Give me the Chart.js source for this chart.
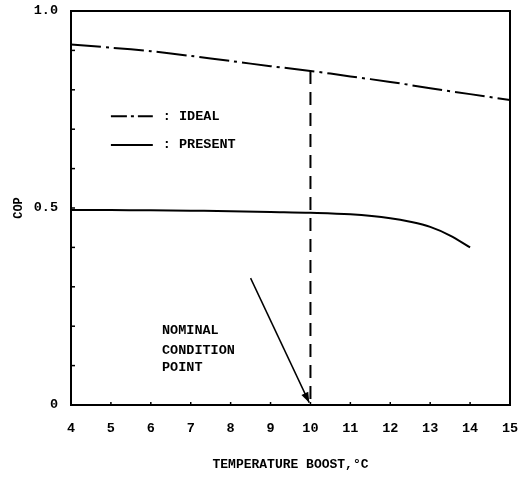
<!DOCTYPE html>
<html lang="en">
<head>
    <meta charset="UTF-8">
    <title>COP vs Temperature Boost</title>
    <script src="https://cdn.jsdelivr.net/npm/chart.js"></script>
    <style>
        html, body { margin: 0; padding: 0; background: #fff; }
        #copChart { display: block; }
    </style>
</head>
<body>
    <canvas id="copChart" width="525" height="479"></canvas>

    <script>
        // data
        const idealBoost = [4, 5, 6, 7, 8, 9, 10, 11, 12, 13, 14, 15];
        const idealCop = [0.915, 0.907, 0.898, 0.886, 0.873, 0.860, 0.848, 0.834, 0.820, 0.804, 0.789, 0.774];

        const presentBoost = [4, 5, 6, 7, 8, 9, 10, 11, 12, 12.5, 13, 13.5, 14];
        const presentCop = [0.495, 0.495, 0.494, 0.493, 0.492, 0.490, 0.488, 0.484, 0.474, 0.465, 0.452, 0.430, 0.400];

        // nominal condition point (dashed drop line)
        const nominalBoost = [10, 10];
        const nominalCop = [0.848, 0];

        const xTicks = [4, 5, 6, 7, 8, 9, 10, 11, 12, 13, 14, 15];
        const yLabels = { '0': '0', '0.5': '0.5', '1': '1.0' };

        const legendItems = ['IDEAL', 'PRESENT'];
        const noteLines = ['NOMINAL', 'CONDITION', 'POINT'];

        const FONT = '"Liberation Mono", "DejaVu Sans Mono", monospace';

        const toPoints = (xs, ys) => xs.map((x, i) => ({ x: x, y: ys[i] }));

        // drop the automatic label overflow padding so the layout padding rules
        const noEdgePad = scale => {
            scale.paddingTop = 0;
            scale.paddingBottom = 0;
            scale.paddingLeft = 0;
            scale.paddingRight = 0;
        };

        // frame, inward ticks, legend and arrow note
        const extras = {
            id: 'extras',
            afterDraw(chart) {
                const ctx = chart.ctx;
                const a = chart.chartArea;
                const xs = chart.scales.x;
                const ys = chart.scales.y;
                ctx.save();
                ctx.strokeStyle = '#000';
                ctx.lineWidth = 2;
                ctx.strokeRect(a.left, a.top, a.right - a.left, a.bottom - a.top);

                ctx.lineWidth = 1.5;
                ys.ticks.forEach(t => {
                    const py = ys.getPixelForValue(t.value);
                    ctx.beginPath();
                    ctx.moveTo(a.left, py);
                    ctx.lineTo(a.left + 4, py);
                    ctx.stroke();
                });
                xs.ticks.forEach(t => {
                    const px = xs.getPixelForValue(t.value);
                    ctx.beginPath();
                    ctx.moveTo(px, a.bottom);
                    ctx.lineTo(px, a.bottom - 3);
                    ctx.stroke();
                });

                // legend inside the plot
                ctx.font = 'bold 13.5px ' + FONT;
                ctx.fillStyle = '#000';
                ctx.textBaseline = 'middle';
                const legendY = [0.733, 0.660];
                legendItems.forEach((name, i) => {
                    const py = ys.getPixelForValue(legendY[i]);
                    ctx.lineWidth = 2;
                    ctx.setLineDash(i === 0 ? [16, 4, 3, 4] : []);
                    ctx.beginPath();
                    ctx.moveTo(xs.getPixelForValue(5.0), py);
                    ctx.lineTo(xs.getPixelForValue(6.05), py);
                    ctx.stroke();
                    ctx.setLineDash([]);
                    ctx.fillText(': ' + name, xs.getPixelForValue(6.3), py);
                });

                // note text
                const noteY = [0.19, 0.137, 0.094];
                noteLines.forEach((line, i) => {
                    ctx.fillText(line, xs.getPixelForValue(6.28), ys.getPixelForValue(noteY[i]));
                });

                // arrow to the nominal point
                const x0 = xs.getPixelForValue(8.5), y0 = ys.getPixelForValue(0.322);
                const x1 = xs.getPixelForValue(9.97), y1 = ys.getPixelForValue(0.006);
                ctx.lineWidth = 1.5;
                ctx.beginPath();
                ctx.moveTo(x0, y0);
                ctx.lineTo(x1, y1);
                ctx.stroke();
                const ang = Math.atan2(y1 - y0, x1 - x0);
                ctx.beginPath();
                ctx.moveTo(x1, y1);
                ctx.lineTo(x1 - 11 * Math.cos(ang - 0.35), y1 - 11 * Math.sin(ang - 0.35));
                ctx.lineTo(x1 - 11 * Math.cos(ang + 0.35), y1 - 11 * Math.sin(ang + 0.35));
                ctx.closePath();
                ctx.fill();
                ctx.restore();
            }
        };

        new Chart(document.getElementById('copChart'), {
            type: 'line',
            data: {
                datasets: [
                    {
                        label: 'IDEAL',
                        data: toPoints(idealBoost, idealCop),
                        borderColor: '#000',
                        borderWidth: 2,
                        borderDash: [30, 5, 3, 5],
                        pointRadius: 0,
                        tension: 0.3
                    },
                    {
                        label: 'PRESENT',
                        data: toPoints(presentBoost, presentCop),
                        borderColor: '#000',
                        borderWidth: 2,
                        pointRadius: 0,
                        cubicInterpolationMode: 'monotone'
                    },
                    {
                        label: 'NOMINAL',
                        data: toPoints(nominalBoost, nominalCop),
                        borderColor: '#000',
                        borderWidth: 2,
                        borderDash: [13, 8],
                        pointRadius: 0
                    }
                ]
            },
            options: {
                responsive: false,
                animation: false,
                layout: { autoPadding: false, padding: { top: 11, right: 15, left: 0, bottom: 0 } },
                plugins: {
                    legend: { display: false },
                    tooltip: { enabled: false }
                },
                scales: {
                    x: {
                        type: 'linear',
                        min: 4,
                        max: 15,
                        afterBuildTicks: scale => { scale.ticks = xTicks.map(v => ({ value: v })); },
                        afterFit: scale => { scale.height = 74; noEdgePad(scale); },
                        grid: { display: false, drawTicks: false },
                        border: { display: false },
                        ticks: {
                            padding: 15,
                            color: '#000',
                            maxRotation: 0,
                            font: { family: FONT, size: 13.5, weight: 'bold' }
                        },
                        title: {
                            display: true,
                            text: 'TEMPERATURE BOOST,°C',
                            color: '#000',
                            font: { family: FONT, size: 13, weight: 'bold' },
                            padding: { top: 23, bottom: 6 }
                        }
                    },
                    y: {
                        min: 0,
                        max: 1,
                        afterFit: scale => { scale.width = 71; noEdgePad(scale); },
                        grid: { display: false, drawTicks: false },
                        border: { display: false },
                        ticks: {
                            stepSize: 0.1,
                            padding: 13,
                            color: '#000',
                            font: { family: FONT, size: 13.5, weight: 'bold' },
                            callback: v => yLabels[String(Math.round(v * 10) / 10)] || ''
                        },
                        title: {
                            display: true,
                            text: 'COP',
                            color: '#000',
                            font: { family: FONT, size: 12, weight: 'bold' },
                            padding: { top: 12, bottom: 0 }
                        }
                    }
                }
            },
            plugins: [extras]
        });
    </script>
</body>
</html>
